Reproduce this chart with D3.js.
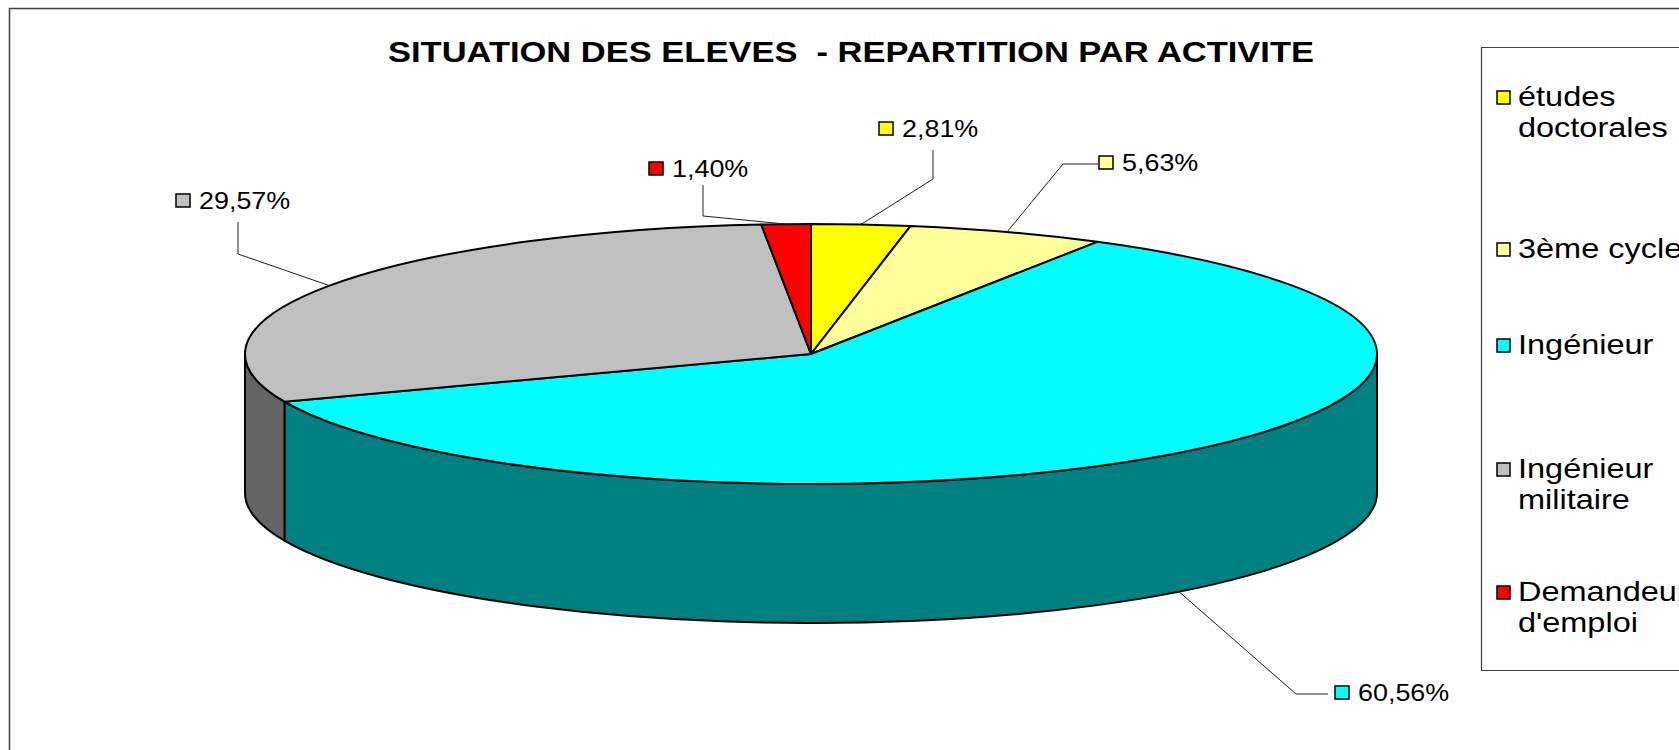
<!DOCTYPE html>
<html>
<head>
<meta charset="utf-8">
<script src="https://cdn.jsdelivr.net/npm/d3@7"></script>
<style>
  body { margin: 0; background: #fff; overflow: hidden; }
  svg { display: block; }
  text { font-family: "Liberation Sans", Arial, sans-serif; fill: #000; }
</style>
</head>
<body>
<svg id="chart" width="1679" height="750"></svg>
<script>
// data
const categories = ["études doctorales", "3ème cycle", "Ingénieur", "Ingénieur militaire", "Demandeur d'emploi"];
const percents = [2.81, 5.63, 60.56, 29.57, 1.40];
const labels = ["2,81%", "5,63%", "60,56%", "29,57%", "1,40%"];
const topColors = ["#ffff00", "#ffff99", "#00ffff", "#c0c0c0", "#ff0000"];
const sideColors = ["#808000", "#80804c", "#008080", "#646464", "#800000"];
const legendLines = [["études", "doctorales"], ["3ème cycle"], ["Ingénieur"], ["Ingénieur", "militaire"], ["Demandeur", "d'emploi"]];

// where excel put the data labels (text baseline) and the leader elbows
const labelPos = [
  { x: 902, y: 137, leader: [[933, 150], [933, 179]] },
  { x: 1122, y: 171, leader: [[1098, 164], [1063, 164]] },
  { x: 1358, y: 701, leader: [[1328, 694], [1296, 694]] },
  { x: 199, y: 209, leader: [[238, 222], [238, 254]] },
  { x: 672, y: 177, leader: [[703, 185], [703, 216]] }
];
const legendY = [106, 258, 354, 478, 601];

const svg = d3.select('#chart');

// pie geometry
const cx = 811, cy = 354, rx = 566, ry = 130, depth = 139;
const pt = (a, dy = 0) => [cx + rx * Math.sin(a), cy - ry * Math.cos(a) + dy];

const pie = d3.pie().sort(null).value(d => d);
const arcs = pie(percents);

// outer frame (right and bottom fall off the picture)
svg.append('path')
  .attr('d', 'M9.5,760 L9.5,8.5 L1690,8.5')
  .attr('fill', 'none')
  .attr('stroke', '#404040')
  .attr('stroke-width', 1.5);

// title
svg.append('text')
  .attr('transform', 'translate(851,62) scale(1.15,1)')
  .attr('text-anchor', 'middle')
  .attr('font-size', 30)
  .attr('font-weight', 'bold')
  .attr('xml:space', 'preserve')
  .text('SITUATION DES ELEVES  - REPARTITION PAR ACTIVITE');

// side walls, only the front half (90° to 270°) is visible
const g = svg.append('g');
arcs.forEach((d, i) => {
  const a0 = Math.max(d.startAngle, Math.PI / 2);
  const a1 = Math.min(d.endAngle, Math.PI * 1.5);
  if (a1 <= a0) return;
  const p0 = pt(a0), p1 = pt(a1);
  const large = (a1 - a0) > Math.PI ? 1 : 0;
  const path = `M${p0} A${rx},${ry} 0 ${large} 1 ${p1} L${p1[0]},${p1[1] + depth}` +
    ` A${rx},${ry} 0 ${large} 0 ${p0[0]},${p0[1] + depth} Z`;
  g.append('path')
    .attr('d', path)
    .attr('fill', sideColors[i])
    .attr('stroke', '#000')
    .attr('stroke-width', 2)
    .attr('stroke-linejoin', 'round');
});

// top faces
arcs.forEach((d, i) => {
  const p0 = pt(d.startAngle), p1 = pt(d.endAngle);
  const large = (d.endAngle - d.startAngle) > Math.PI ? 1 : 0;
  g.append('path')
    .attr('d', `M${cx},${cy} L${p0} A${rx},${ry} 0 ${large} 1 ${p1} Z`)
    .attr('fill', topColors[i])
    .attr('stroke', '#000')
    .attr('stroke-width', 2)
    .attr('stroke-linejoin', 'round');
});

// data labels with leader lines
arcs.forEach((d, i) => {
  const mid = (d.startAngle + d.endAngle) / 2;
  const front = mid > Math.PI / 2 && mid < Math.PI * 1.5;
  const anchor = pt(mid, front ? depth : 0);
  const lp = labelPos[i];
  svg.append('path')
    .attr('d', d3.line()([...lp.leader, anchor]))
    .attr('fill', 'none')
    .attr('stroke', '#222')
    .attr('stroke-width', 1);
  svg.append('rect')
    .attr('x', lp.x - 23).attr('y', lp.y - 15)
    .attr('width', 14).attr('height', 13)
    .attr('fill', topColors[i])
    .attr('stroke', '#000')
    .attr('stroke-width', 1.5);
  svg.append('text')
    .attr('transform', `translate(${lp.x},${lp.y}) scale(1.17,1)`)
    .attr('font-size', 23)
    .text(labels[i]);
});

// legend
svg.append('path')
  .attr('d', 'M1690,47.5 L1481.5,47.5 L1481.5,670.5 L1690,670.5')
  .attr('fill', 'none')
  .attr('stroke', '#404040')
  .attr('stroke-width', 1.2);

categories.forEach((c, i) => {
  const y = legendY[i];
  svg.append('rect')
    .attr('x', 1497).attr('y', y - 15)
    .attr('width', 13).attr('height', 13)
    .attr('fill', topColors[i])
    .attr('stroke', '#000')
    .attr('stroke-width', 1.5);
  const t = svg.append('text')
    .attr('transform', `translate(1518,${y}) scale(1.16,1)`)
    .attr('font-size', 28);
  legendLines[i].forEach((line, j) => {
    t.append('tspan').attr('x', 0).attr('y', j * 31).text(line);
  });
});
</script>
</body>
</html>
